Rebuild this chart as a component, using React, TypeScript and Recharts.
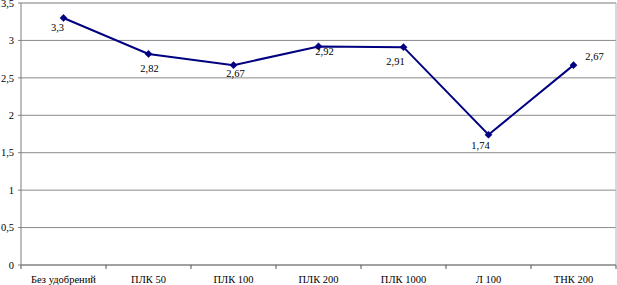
import React from "react";
import {
  LineChart,
  Line,
  XAxis,
  YAxis,
  CartesianGrid,
  LabelList,
  ReferenceLine,
} from "recharts";

const categories = [
  "Без удобрений",
  "ПЛК 50",
  "ПЛК 100",
  "ПЛК 200",
  "ПЛК 1000",
  "Л 100",
  "ТНК 200",
];
const values = [3.3, 2.82, 2.67, 2.92, 2.91, 1.74, 2.67];
const yTicks = [0, 0.5, 1, 1.5, 2, 2.5, 3, 3.5];

// label placement offsets (style only): [dx, dy] from the point
const labelOffsets: [number, number][] = [
  [-6, 10],
  [1, 15],
  [2, 8],
  [6, 5],
  [-8, 14],
  [-8, 11],
  [21, -9],
];

const data = categories.map((name, i) => ({ name, v: values[i] }));

const FONT = "Liberation Serif";
const FS = 10.5;
const TICK_MARGIN = 11;
const fmt = (n: number) => String(n).replace(".", ",");

const Diamond = (props: any) => {
  const { cx, cy } = props;
  if (cx == null || cy == null) return null;
  const r = 3.6;
  return (
    <polygon
      points={`${cx},${cy - r} ${cx + r},${cy} ${cx},${cy + r} ${cx - r},${cy}`}
      fill="#000080"
      stroke="#000080"
      strokeWidth={0.5}
    />
  );
};

const PointLabel = (props: any) => {
  const { x, y, value, index } = props;
  const [dx, dy] = labelOffsets[index] || [0, 12];
  return (
    <text
      x={x + dx}
      y={y + dy}
      textAnchor="middle"
      dominantBaseline="central"
      style={{ fontFamily: FONT, fontSize: FS }}
      fill="#000"
    >
      {fmt(value)}
    </text>
  );
};

const CategoryTick = (props: any) => {
  const { x, y, payload, index, width, visibleTicksCount } = props;
  const count = visibleTicksCount || categories.length;
  let hb = Number(payload?.offset);
  if (!isFinite(hb) || hb <= 0) hb = Number(width) / count / 2;
  if (!isFinite(hb) || hb <= 0) hb = 0;
  const axisY = Number(y) - TICK_MARGIN;
  return (
    <g>
      {hb > 0 && (
        <path
          d={`M${x - hb},${axisY}v4` + (index === count - 1 ? `M${x + hb},${axisY}v4` : "")}
          stroke="#555"
          strokeWidth={1}
          fill="none"
        />
      )}
      <text
        x={x}
        y={y}
        dy="0.71em"
        textAnchor="middle"
        style={{ fontFamily: FONT, fontSize: FS }}
        fill="#000"
      >
        {payload.value}
      </text>
    </g>
  );
};

const tickStyle = { fontFamily: FONT, fontSize: FS, fill: "#000", style: { fontFamily: FONT, fontSize: FS } };

export default function App() {
  return (
    <div style={{ position: "absolute", left: 0, top: 0, width: 617, height: 285, background: "#fff", fontFamily: FONT }}>
      <LineChart
        width={617}
        height={285}
        data={data}
        margin={{ top: 3, right: 1, bottom: 0, left: 0 }}
        style={{ fontFamily: FONT }}
      >
        <CartesianGrid vertical={false} stroke="#8a8a8a" strokeWidth={1} />
        <CartesianGrid
          horizontal={false}
          stroke="#b4b4b4"
          verticalCoordinatesGenerator={({ offset }: any) => [offset.left + offset.width]}
        />
        <XAxis
          dataKey="name"
          scale="band"
          height={20}
          axisLine={{ stroke: "#7f7f7f" }}
          tickLine={false}
          tickSize={0}
          tickMargin={TICK_MARGIN}
          interval={0}
          tick={<CategoryTick />}
        />
        <YAxis
          domain={[0, 3.5]}
          ticks={yTicks}
          width={21}
          interval={0}
          axisLine={{ stroke: "#7f7f7f" }}
          tickLine={{ stroke: "#7f7f7f" }}
          tickSize={3}
          tickMargin={4}
          tickFormatter={fmt}
          tick={tickStyle}
        />
        <ReferenceLine y={3.5} stroke="#b4b4b4" />
        <Line
          dataKey="v"
          stroke="#000080"
          strokeWidth={2}
          dot={<Diamond />}
          activeDot={false}
          isAnimationActive={false}
        >
          <LabelList dataKey="v" content={<PointLabel />} />
        </Line>
      </LineChart>
    </div>
  );
}
